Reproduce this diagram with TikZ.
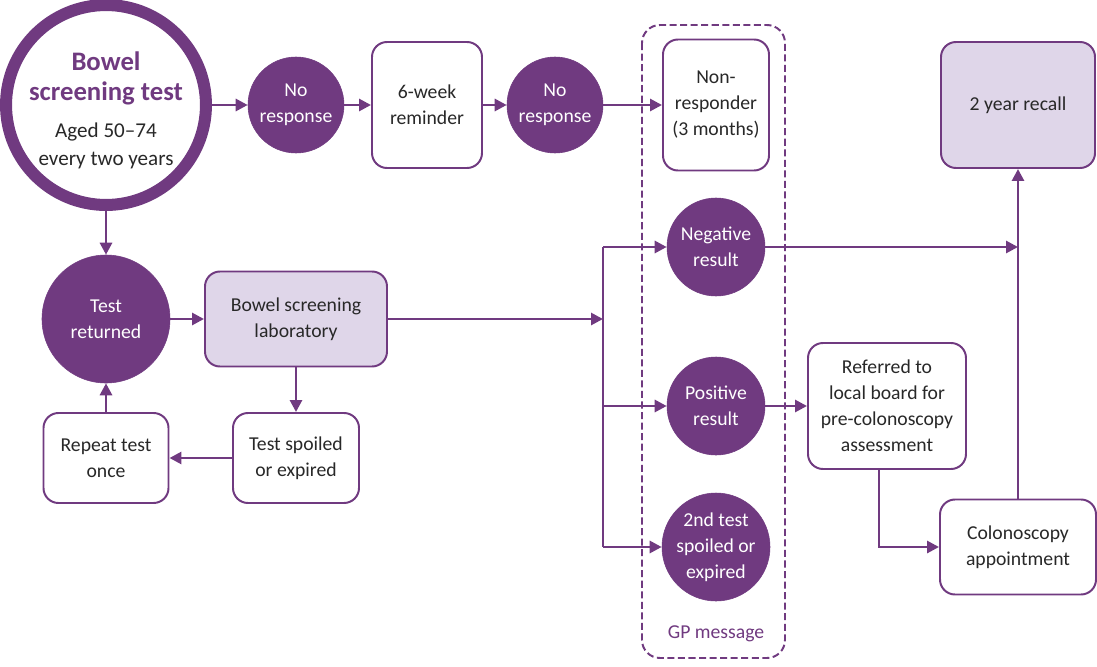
\documentclass[tikz,border=0pt]{standalone}
\usepackage{fontspec}
\setmainfont{Carlito}
\usetikzlibrary{arrows.meta}
\definecolor{gpurple}{RGB}{112,58,128}
\definecolor{glilac}{RGB}{223,214,233}
\definecolor{gtext}{RGB}{40,40,40}
\newcommand{\bsttitle}{\color{gpurple}\bfseries\fontsize{19}{22}\selectfont}
\newcommand{\bstsub}{\fontsize{15}{19}\selectfont}
\tikzset{every node/.style={align=center, font=\fontsize{14}{18.5}\selectfont, text=gtext}}
\tikzset{ring/.style={shape=circle, draw=gpurple, line width=0.3cm, fill=white, inner sep=0pt, minimum size=4.95cm}}
\tikzset{disc/.style={shape=circle, fill=gpurple, draw=gpurple, text=white, inner sep=0pt}}
\tikzset{card/.style={shape=rectangle, rounded corners=0.375cm, draw=gpurple, line width=1.4pt, fill=white, inner sep=0pt}}
\tikzset{labcard/.style={card, fill=glilac}}
\tikzset{flow/.style={draw=gpurple, line width=2pt, -{Triangle[length=0.3cm,width=0.3cm]}}}
\tikzset{every edge/.style={flow}}
\tikzset{gpframe/.style={draw=gpurple, line width=1.4pt, dash pattern=on 5pt off 2.5pt, rounded corners=0.45cm}}

\begin{document}
\begin{tikzpicture}
  \useasboundingbox (-2.65,2.625) rectangle (24.775,-14.025);

  \draw [gpframe] (13.4,2.0) rectangle (16.975,-13.825);

  \node (bst) [ring] {\bsttitle\rule{0pt}{21pt}Bowel\\[2.8pt] \bsttitle screening test\\[8pt] \bstsub Aged 50--74\\[1.4pt] \bstsub every two years};
  \node (noresp1) [disc, minimum size=2.4cm, node distance=4.75cm, right of=bst] {No\\response};
  \node (remind) [card, minimum width=2.75cm, minimum height=3.15cm, node distance=3.275cm, right of=noresp1] {6-week\\reminder};
  \node (noresp2) [disc, minimum size=2.4cm, node distance=3.2cm, right of=remind] {No\\response};
  \node (nonresp) [card, minimum width=2.65cm, minimum height=3.275cm, node distance=4.025cm, right of=noresp2] {Non-\\responder\\(3 months)};
  \node (recall) [labcard, minimum width=3.85cm, minimum height=3.15cm, node distance=7.55cm, right of=nonresp] {2 year recall};

  \node (testret) [disc, minimum size=3.2cm, node distance=5.35cm, below of=bst] {Test\\returned};
  \node (lab) [labcard, minimum width=4.55cm, minimum height=2.375cm, node distance=4.75cm, right of=testret] {Bowel screening\\laboratory};
  \node (retest) [card, minimum width=3.125cm, minimum height=2.25cm, node distance=3.475cm, below of=testret] {Repeat test\\once};
  \node (spoiled) [card, minimum width=3.15cm, minimum height=2.25cm, node distance=4.75cm, right of=retest] {Test spoiled\\or expired};
  \node (hub) [shape=coordinate, node distance=7.675cm, right of=lab] {};

  \node (neg) [disc, minimum size=2.45cm, node distance=3.55cm, below of=nonresp] {Negative\\result};
  \node (pos) [disc, minimum size=2.45cm, node distance=3.975cm, below of=neg] {Positive\\result};
  \node (second) [disc, minimum size=2.7cm, node distance=3.525cm, below of=pos] {2nd test\\spoiled or\\expired};
  \node (gp) [text=gpurple, node distance=2.175cm, below of=second] {GP message};
  \node (referred) [card, minimum width=3.95cm, minimum height=3.15cm, node distance=4.275cm, right of=pos] {Referred to\\local board for\\pre-colonoscopy\\assessment};
  \node (colon) [card, minimum width=3.9cm, minimum height=2.375cm, node distance=7.55cm, right of=second] {Colonoscopy\\appointment};

  \path (bst) edge (noresp1);
  \path (noresp1) edge (remind);
  \path (remind) edge (noresp2);
  \path (noresp2) edge (nonresp);

  \path (bst) edge (testret);
  \path (testret) edge (lab);
  \path (lab) edge (spoiled);
  \path (spoiled) edge (retest);
  \path (retest) edge (testret);

  \path (lab) edge (hub);
  \draw [flow, -] (neg -| hub) -- (second -| hub);
  \path (neg -| hub) edge (neg);
  \path (pos -| hub) edge (pos);
  \path (second -| hub) edge (second);

  \path (neg) edge (neg -| recall);
  \path (colon) edge (recall);
  \path (pos) edge (referred);
  \draw [flow] ([xshift=-0.2cm]referred.south) |- (colon);
\end{tikzpicture}
\end{document}
